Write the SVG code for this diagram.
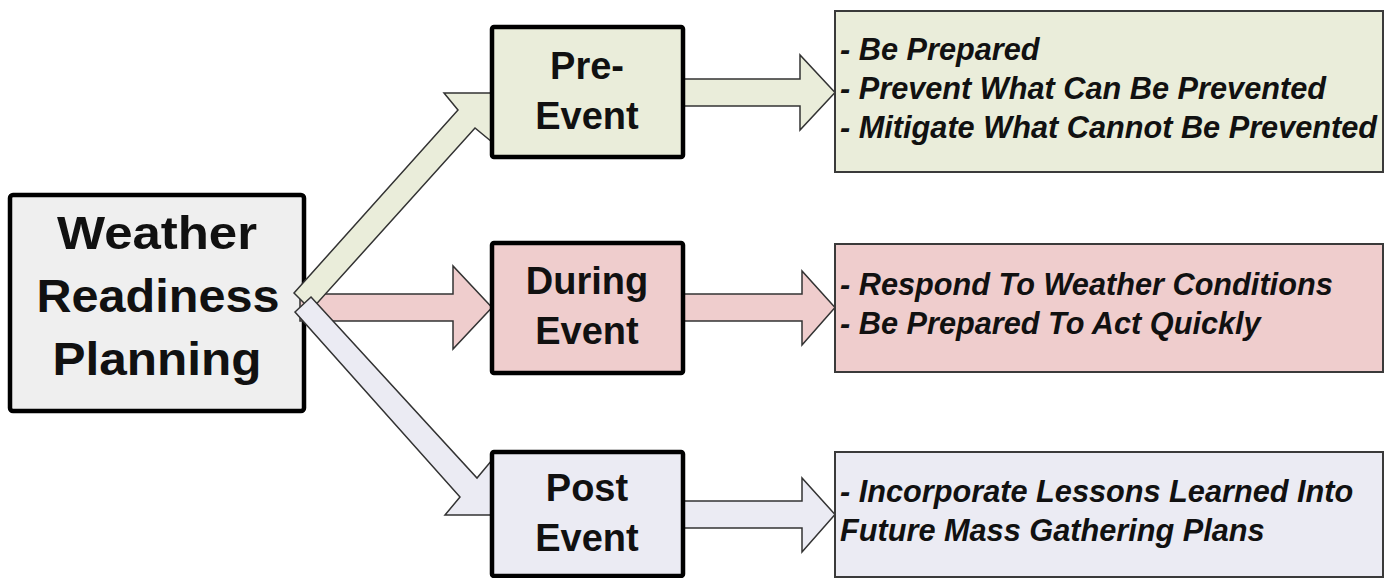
<svg xmlns="http://www.w3.org/2000/svg" width="1387" height="578" viewBox="0 0 1387 578">
<style>
.main{stroke:#000;stroke-width:4.5}
.detail{stroke:#3a3a3a;stroke-width:2}
.arr{stroke:#333;stroke-width:1.5;stroke-linejoin:miter}
.green{fill:#eaedda}
.pink{fill:#efcdcd}
.lav{fill:#ebebf3}
.gray{fill:#efefef}
.big{font-family:"Liberation Sans",Arial,sans-serif;font-weight:bold;font-size:46px;fill:#111;text-anchor:middle}
.mid{font-family:"Liberation Sans",Arial,sans-serif;font-weight:bold;font-size:38px;fill:#111;text-anchor:middle}
.item{font-family:"Liberation Sans",Arial,sans-serif;font-weight:bold;font-style:italic;font-size:30.7px;fill:#111}
</style>
<rect width="1387" height="578" fill="#fff"/>
<g id="node-planning">
<rect class="main gray" x="10" y="195" width="294" height="216" rx="3"/>
<text class="big" x="157" y="249" textLength="200" lengthAdjust="spacingAndGlyphs">Weather</text>
<text class="big" x="158" y="312" textLength="243" lengthAdjust="spacingAndGlyphs">Readiness</text>
<text class="big" x="157" y="375" textLength="209" lengthAdjust="spacingAndGlyphs">Planning</text>
</g>
<g id="connectors">
<polygon class="arr pink" points="300,294 453,294 453,266 492,307.5 453,349 453,321 300,321"/>
<polygon class="arr green" points="294,293 458,110 444,93 492,93 492,142 475,128 311,310"/>
<polygon class="arr lav" points="311,297 477,478 492,460 492,515 445,515 460,497 295,312"/>
<polygon class="arr green" points="683,79 800,79 800,55 835,92.5 800,130 800,106 683,106"/>
<polygon class="arr pink" points="683,294 802,294 802,271 835,307.5 802,345 802,321 683,321"/>
<polygon class="arr lav" points="683,501 802,501 802,478 835,514.5 802,552 802,528 683,528"/>
</g>
<g id="node-pre">
<rect class="main green" x="492" y="27" width="191" height="130" rx="2"/>
<text class="mid" x="587" y="79">Pre-</text>
<text class="mid" x="587" y="129">Event</text>
</g>
<g id="node-during">
<rect class="main pink" x="492" y="243" width="191" height="130" rx="2"/>
<text class="mid" x="587" y="294">During</text>
<text class="mid" x="587" y="344">Event</text>
</g>
<g id="node-post">
<rect class="main lav" x="492" y="452" width="191" height="124" rx="2"/>
<text class="mid" x="587" y="501">Post</text>
<text class="mid" x="587" y="551">Event</text>
</g>
<g id="detail-pre">
<rect class="detail green" x="835" y="11" width="548" height="161"/>
<text class="item" x="840" y="60">- Be Prepared</text>
<text class="item" x="840" y="99">- Prevent What Can Be Prevented</text>
<text class="item" x="840" y="138">- Mitigate What Cannot Be Prevented</text>
</g>
<g id="detail-during">
<rect class="detail pink" x="835" y="244" width="548" height="128"/>
<text class="item" x="840" y="295">- Respond To Weather Conditions</text>
<text class="item" x="840" y="334">- Be Prepared To Act Quickly</text>
</g>
<g id="detail-post">
<rect class="detail lav" x="835" y="452" width="548" height="125"/>
<text class="item" x="840" y="502">- Incorporate Lessons Learned Into</text>
<text class="item" x="840" y="541">Future Mass Gathering Plans</text>
</g>
</svg>
